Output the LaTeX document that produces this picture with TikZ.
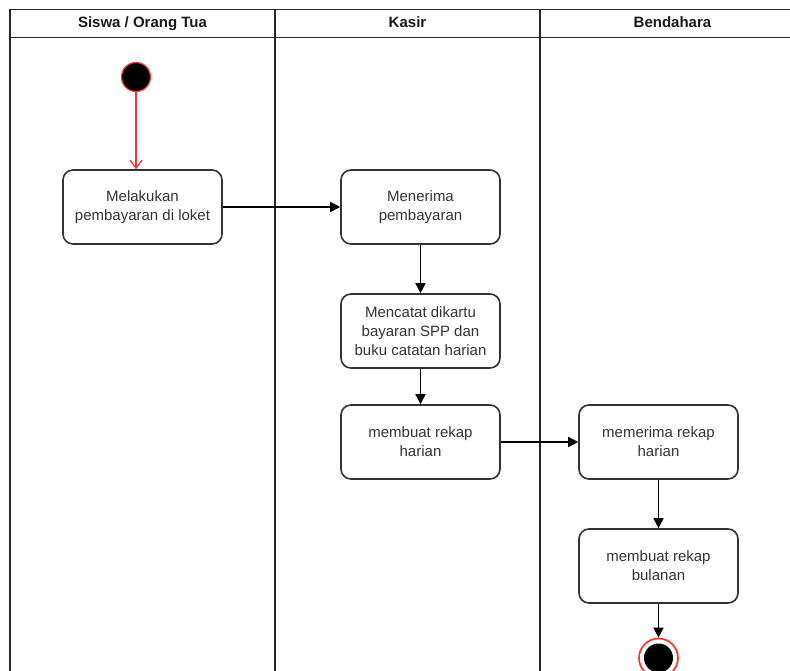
\documentclass[tikz,border=0pt]{standalone}
\usepackage{fontspec}
\setmainfont{Liberation Sans}
\usetikzlibrary{arrows.meta}
\definecolor{txt}{HTML}{333333}
\definecolor{redline}{HTML}{FF3333}
\tikzset{
  lane/.style={draw=black!85, line width=1.7pt},
  act/.style={draw=black!80, line width=1.6pt, rounded corners=10pt, fill=white,
    minimum width=159pt, minimum height=74pt, inner sep=0pt, align=center,
    text=txt, font=\fontsize{15}{19}\selectfont},
  hdr/.style={font=\bfseries\fontsize{15}{18}\selectfont, text=black!90,
    text height=11pt, text depth=3pt, inner sep=0pt},
  flow/.style={draw=black, line width=1.6pt, -{Triangle[length=10pt,width=10pt]}},
  startflow/.style={draw=redline, line width=1.3pt, -{Straight Barb[length=8pt,width=12pt,line width=1.3pt]}}
}
\begin{document}
\begin{tikzpicture}[x=1pt,y=-1pt]
\useasboundingbox (0,0) rectangle (790,671);
% frame
\draw[lane] (10,671) -- (10,9.5) -- (790,9.5);
\draw[lane] (10,37.5) -- (790,37.5);
\draw[lane] (275,9.5) -- (275,671);
\draw[lane] (540,9.5) -- (540,671);
% headers
\node[hdr] (h1) at (142.5,24) {Siswa / Orang Tua};
\node[hdr] (h2) at (407.5,24) {Kasir};
\node[hdr] (h3) at (672.5,24) {Bendahara};
% start
\node[circle, fill=black, draw=redline, line width=1.2pt, minimum size=29pt, inner sep=0pt] (start) at (136,77) {};
% activities
\node[act] (a1) at (142.5,207) {Melakukan\\pembayaran di loket};
\node[act] (a2) at (420.5,207) {Menerima\\pembayaran};
\node[act] (a3) at (420.5,331) {Mencatat dikartu\\bayaran SPP dan\\buku catatan harian};
\node[act] (a4) at (420.5,442) {membuat rekap\\harian};
\node[act] (a5) at (658.5,442) {memerima rekap\\harian};
\node[act] (a6) at (658.5,566) {membuat rekap\\bulanan};
% end
\node[circle, fill=white, draw=redline, line width=1.7pt, minimum size=39pt, inner sep=0pt] (end) at (658.5,658) {};
\node[circle, fill=black, minimum size=29pt, inner sep=0pt] (endin) at (end.center) {};
% flows
\draw[startflow] (start.south) -- (start.south |- a1.north);
\draw[flow] (a1.east) -- (a2.west);
\draw[flow] (a2.south) -- (a3.north);
\draw[flow] (a3.south) -- (a4.north);
\draw[flow] (a4.east) -- (a5.west);
\draw[flow] (a5.south) -- (a6.north);
\draw[flow] (a6.south) -- (end.north);
\end{tikzpicture}
\end{document}
